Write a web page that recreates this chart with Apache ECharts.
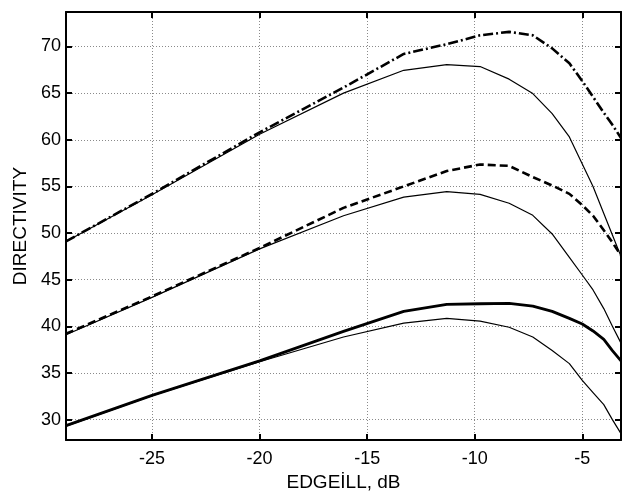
<!DOCTYPE html>
<html>
<head>
<meta charset="utf-8">
<script src="https://cdn.jsdelivr.net/npm/echarts@6/dist/echarts.min.js"></script>
<style>
html,body{margin:0;padding:0;background:#fff;}
#chart{width:626px;height:497px;}
</style>
</head>
<body>
<div id="chart"></div>
<script>
// Edge illumination (dB)
const edgeIll = [-29, -25, -20, -16.1, -13.3, -11.3, -9.75, -8.4, -7.3, -6.4, -5.6, -5.0, -4.5, -4.0, -3.6, -3.2];

// Upper pair
const upperDashDot = [49.1, 54.2, 60.8, 65.6, 69.2, 70.25, 71.2, 71.57, 71.2, 69.8, 68.2, 66.3, 64.6, 62.9, 61.6, 60.2];
const upperThin    = [49.1, 54.1, 60.6, 65.0, 67.45, 68.05, 67.85, 66.5, 64.95, 62.8, 60.3, 57.4, 55.0, 52.1, 49.8, 47.5];

// Middle pair
const middleDashed = [39.2, 43.2, 48.4, 52.7, 55.0, 56.65, 57.35, 57.2, 56.0, 55.1, 54.2, 53.0, 51.85, 50.3, 49.0, 47.6];
const middleThin   = [39.1, 43.1, 48.3, 51.85, 53.85, 54.45, 54.15, 53.2, 51.9, 49.9, 47.4, 45.5, 43.9, 41.9, 40.0, 38.2];

// Lower pair
const lowerThick = [29.35, 32.6, 36.3, 39.45, 41.6, 42.35, 42.42, 42.45, 42.17, 41.6, 40.85, 40.25, 39.5, 38.6, 37.4, 36.3];
const lowerThin  = [29.3, 32.55, 36.2, 38.85, 40.35, 40.85, 40.55, 39.9, 38.86, 37.4, 36.0, 34.2, 32.9, 31.6, 30.0, 28.5];

const xName = 'EDGEİLL, dB';
const yName = 'DIRECTIVITY';

function pairs(ys) { return edgeIll.map((x, i) => [x, ys[i]]); }

const FONT = '"Liberation Sans", Arial, sans-serif';
const chart = echarts.init(document.getElementById('chart'), null, {renderer: 'canvas'});

function mkLine(name, ys, width, type) {
  return {
    name: name, type: 'line', data: pairs(ys), symbol: 'none',
    xAxisIndex: 0, yAxisIndex: 0,
    lineStyle: {color: '#000', width: width, type: type, cap: 'butt', join: 'round'},
    emphasis: {disabled: true}, z: 5
  };
}

const gridLine = {show: true, lineStyle: {color: '#8a8a8a', type: [1, 2], width: 1}};

chart.setOption({
  animation: false,
  backgroundColor: '#fff',
  grid: {left: 66, right: 5, top: 12, bottom: 46, containLabel: false},
  xAxis: [{
    type: 'value', min: -29, max: -3.2, splitNumber: 5, position: 'bottom',
    name: xName, nameLocation: 'middle', nameGap: 29,
    nameTextStyle: {fontFamily: FONT, fontSize: 19, color: '#000'},
    axisLine: {show: true, onZero: false, lineStyle: {color: '#000', width: 2}},
    axisTick: {show: true, inside: true, length: 6, lineStyle: {color: '#000', width: 2}},
    axisLabel: {fontFamily: FONT, fontSize: 18, color: '#000', margin: 10, showMinLabel: false, showMaxLabel: false},
    splitLine: gridLine
  }, {
    type: 'value', min: -29, max: -3.2, splitNumber: 5, position: 'top',
    axisLine: {show: true, onZero: false, lineStyle: {color: '#000', width: 2}},
    axisTick: {show: true, inside: true, length: 6, lineStyle: {color: '#000', width: 2}},
    axisLabel: {show: false}, splitLine: {show: false}
  }],
  yAxis: [{
    type: 'value', min: 27.8, max: 73.7, splitNumber: 9, position: 'left',
    name: yName, nameLocation: 'middle', nameGap: 33, nameRotate: 90,
    nameTextStyle: {fontFamily: FONT, fontSize: 19, color: '#000'},
    axisLine: {show: true, onZero: false, lineStyle: {color: '#000', width: 2}},
    axisTick: {show: true, inside: true, length: 6, lineStyle: {color: '#000', width: 2}},
    axisLabel: {fontFamily: FONT, fontSize: 18, color: '#000', margin: 5, showMinLabel: false, showMaxLabel: false},
    splitLine: gridLine
  }, {
    type: 'value', min: 27.8, max: 73.7, splitNumber: 9, position: 'right',
    axisLine: {show: true, onZero: false, lineStyle: {color: '#000', width: 2}},
    axisTick: {show: true, inside: true, length: 6, lineStyle: {color: '#000', width: 2}},
    axisLabel: {show: false}, splitLine: {show: false}
  }],
  series: [
    mkLine('upperThin', upperThin, 1.2, 'solid'),
    mkLine('middleThin', middleThin, 1.2, 'solid'),
    mkLine('lowerThin', lowerThin, 1.2, 'solid'),
    mkLine('upperDashDot', upperDashDot, 2.6, [10, 3, 2, 3]),
    mkLine('middleDashed', middleDashed, 2.6, [8, 4]),
    mkLine('lowerThick', lowerThick, 2.8, 'solid')
  ]
});
</script>
</body>
</html>
